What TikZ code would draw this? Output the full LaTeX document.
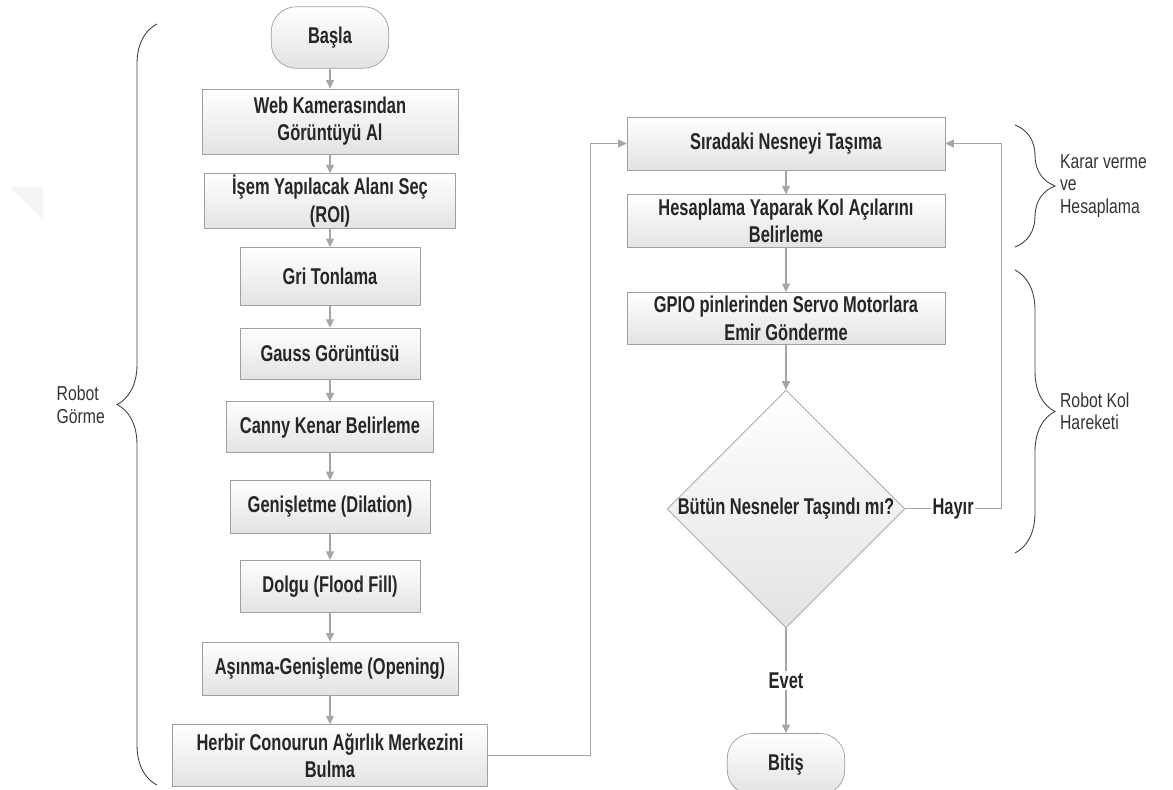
\documentclass[tikz,border=0pt]{standalone}
\usepackage{fontspec}
\setmainfont{Liberation Sans}[FakeStretch=0.72]
\newfontfamily\labelfont{Liberation Sans}[FakeStretch=0.78]
\usetikzlibrary{arrows.meta,positioning,shapes.geometric,decorations.pathreplacing}
\tikzset{
  startstop/.style={
    draw=gray!75, rounded corners=5mm, top color=white, bottom color=gray!22,
    minimum width=23.5mm, minimum height=12.3mm, text=black!85,
    font=\fontsize{13}{15.5}\selectfont\bfseries
  },
  proc/.style={
    draw=gray!75, top color=white, bottom color=gray!22,
    minimum height=10.5mm, inner sep=1pt, align=center, text=black!85,
    font=\fontsize{13}{15.5}\selectfont\bfseries
  },
  decision/.style={
    diamond, draw=gray!75, top color=white, bottom color=gray!22,
    inner sep=0pt, minimum width=46.8mm, minimum height=45mm, text=black!85,
    font=\fontsize{13}{15.5}\selectfont\bfseries
  },
  arrow/.style={-{Triangle[length=1.7mm,width=1.6mm]}, draw=gray!70, line width=0.6pt},
  line/.style={draw=gray!70, line width=0.6pt},
  brace/.style={decorate, decoration={brace, amplitude=8mm}, draw=black!75, line width=0.5pt},
  bracelabel/.style={font=\labelfont\fontsize{11.5}{12.8}\selectfont, align=left, text=black!80, inner sep=1pt},
  flowlabel/.style={fill=white, inner sep=1pt, text=black!85, font=\fontsize{13}{15.5}\selectfont\bfseries}
}
\begin{document}
\begin{tikzpicture}
\useasboundingbox (0,0) rectangle (234.6mm,-158mm);

% ---------- faint mark ----------
\fill[gray!8] (2mm,-37.4mm) -- (8.6mm,-37.4mm) -- (8.6mm,-44mm) -- cycle;

% ---------- Robot vision column ----------
\node[startstop] (basla) at (66mm,-7.5mm) {Başla};
\node[proc, minimum width=51.2mm, minimum height=13mm, below=4mm of basla] (web)
  {Web Kamerasından\\Görüntüyü Al};
\node[proc, minimum width=50.2mm, minimum height=10.4mm, below=3.8mm of web] (roi)
  {İşem Yapılacak Alanı Seç\\(ROI)};
\node[proc, minimum width=36mm, minimum height=11.6mm, below=3.6mm of roi] (gri) {Gri Tonlama};
\node[proc, minimum width=36mm, minimum height=10.2mm, below=4.4mm of gri] (gauss) {Gauss Görüntüsü};
\node[proc, minimum width=41.4mm, minimum height=10.2mm, below=4.4mm of gauss] (canny) {Canny Kenar Belirleme};
\node[proc, minimum width=40mm, minimum height=10.6mm, below=5.4mm of canny] (dilate) {Genişletme (Dilation)};
\node[proc, minimum width=36mm, minimum height=10.4mm, below=5.2mm of dilate] (flood) {Dolgu (Flood Fill)};
\node[proc, minimum width=51.2mm, minimum height=10.6mm, below=5.8mm of flood] (opening) {Aşınma-Genişleme (Opening)};
\node[proc, minimum width=63mm, minimum height=12.4mm, below=5.8mm of opening] (centroid)
  {Herbir Conourun Ağırlık Merkezini\\Bulma};

\draw[arrow] (basla) -- (web);
\draw[arrow] (web) -- (roi);
\draw[arrow] (roi) -- (gri);
\draw[arrow] (gri) -- (gauss);
\draw[arrow] (gauss) -- (canny);
\draw[arrow] (canny) -- (dilate);
\draw[arrow] (dilate) -- (flood);
\draw[arrow] (flood) -- (opening);
\draw[arrow] (opening) -- (centroid);

% ---------- Robot arm column ----------
\node[proc, minimum width=63.6mm, minimum height=10.6mm] (sira) at (157.2mm,-28.7mm) {Sıradaki Nesneyi Taşıma};
\node[proc, minimum width=63.6mm, minimum height=10.6mm, below=4.8mm of sira] (kol)
  {Hesaplama Yaparak Kol Açılarını\\Belirleme};
\node[proc, minimum width=63.6mm, minimum height=10.4mm, below=8.8mm of kol] (gpio)
  {GPIO pinlerinden Servo Motorlara\\Emir Gönderme};
\node[decision, below=9mm of gpio] (done) {Bütün Nesneler Taşındı mı?};
\node[startstop, below=21mm of done] (bitis) {Bitiş};

\draw[arrow] (centroid.east) -- ++(20.6mm,0) |- (sira.west);
\draw[arrow] (sira) -- (kol);
\draw[arrow] (kol) -- (gpio);
\draw[arrow] (gpio) -- (done);
\draw[arrow] (done.east) -- node[flowlabel] {Hayır} ++(19.2mm,0) |- (sira.east);
\draw[arrow] (done) -- node[flowlabel] {Evet} (bitis);

% ---------- Braces ----------
\coordinate (gorTip) at (23.4mm,-81mm);
\coordinate (kararTip) at (211mm,-37.2mm);
\coordinate (kolTip) at (211mm,-82.3mm);
\draw[brace] (31.4mm,-157mm) -- (31.4mm,-4.8mm);
\draw[brace] (203mm,-25mm) -- (203mm,-49.4mm);
\draw[brace] (203mm,-54mm) -- (203mm,-110.6mm);
\node[bracelabel, left=2mm of gorTip] (gorme) {Robot\\Görme};
\node[bracelabel, right=0.6mm of kararTip] (karar) {Karar verme\\ve\\Hesaplama};
\node[bracelabel, right=0.6mm of kolTip] (hareket) {Robot Kol\\Hareketi};

\end{tikzpicture}
\end{document}
